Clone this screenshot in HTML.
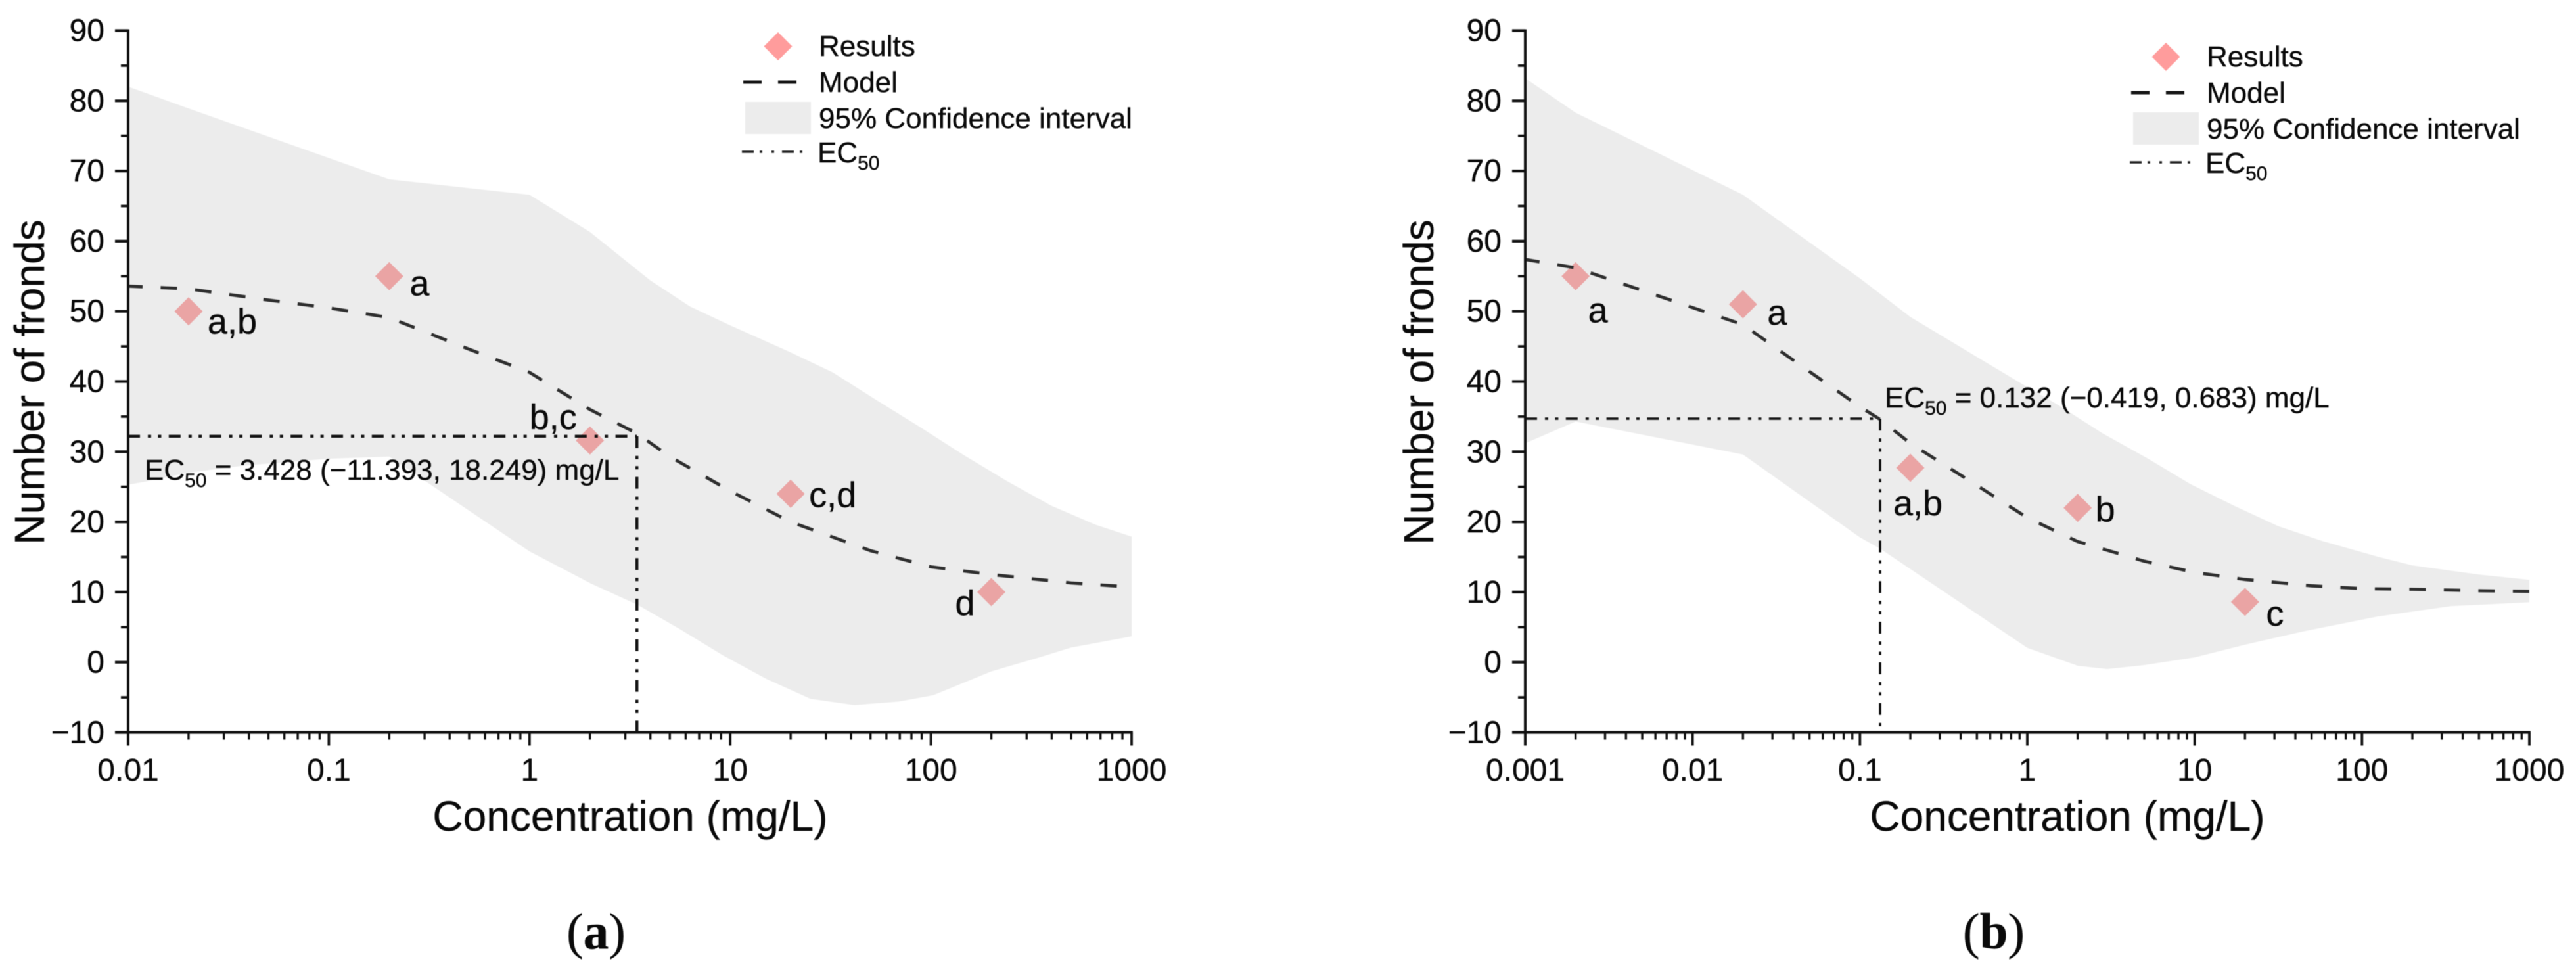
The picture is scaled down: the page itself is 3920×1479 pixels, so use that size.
<!DOCTYPE html>
<html lang="en">
<head>
<meta charset="utf-8">
<title>Number of fronds vs concentration</title>
<style>
  html, body { margin: 0; padding: 0; background: #fff; }
  body { width: 3920px; height: 1479px; overflow: hidden; }
  svg { display: block; filter: blur(0.5px); }
  text { font-family: "Liberation Sans", Arial, sans-serif; fill: #0a0a0a; stroke: #0a0a0a; stroke-width: 0.4px; }
  .tick-label { font-size: 48px; }
  .axis-title { font-size: 64px; }
  .legend-text, .annotation { font-size: 44px; }
  .letter { font-size: 54px; }
  .caption { font-family: "Liberation Serif", "Times New Roman", serif; font-size: 77px; text-anchor: middle; }
  .caption .bold { font-weight: 700; }
</style>
</head>
<body>
<svg id="figure" xmlns="http://www.w3.org/2000/svg" width="3920" height="1479" viewBox="0 0 3920 1479">
  <rect x="0" y="0" width="3920" height="1479" fill="#ffffff"/>

  <g id="panel-a">
    <g class="band-layer"></g>
    <g class="marker-layer"></g>
    <g class="line-layer"></g>
    <g class="axis-layer"></g>
    <g class="letter-layer">
      <text class="letter" data-point="0" data-dx="29" data-dy="34">a,b</text>
      <text class="letter" data-point="1" data-dx="31" data-dy="29">a</text>
      <text class="letter" data-point="2" data-dx="-92" data-dy="-17">b,c</text>
      <text class="letter" data-point="3" data-dx="28" data-dy="20">c,d</text>
      <text class="letter" data-point="4" data-dx="-55" data-dy="35">d</text>
    </g>
    <text class="axis-title" text-anchor="middle" transform="translate(67 581.5) rotate(-90)">Number of fronds</text>
    <text class="axis-title" text-anchor="middle" x="959" y="1264">Concentration (mg/L)</text>
    <text class="annotation" x="220" y="730">EC<tspan font-size="30" dy="11">50</tspan><tspan dy="-11"> = 3.428 (−11.393, 18.249) mg/L</tspan></text>
    <g>
      <polygon points="1184,49 1205.5,70.5 1184,92 1162.5,70.5" fill="#ff9c9c"/>
      <text class="legend-text" x="1246" y="85">Results</text>
      <line x1="1131" y1="125" x2="1213" y2="125" stroke="#151515" stroke-width="5" stroke-dasharray="28 25"/>
      <text class="legend-text" x="1246" y="140">Model</text>
      <rect x="1134" y="155" width="100" height="49" fill="#ececec"/>
      <text class="legend-text" x="1246" y="195">95% Confidence interval</text>
      <line x1="1129" y1="231" x2="1226" y2="231" stroke="#222" stroke-width="3.4" stroke-dasharray="18 9 4 14 4 12"/>
      <text class="legend-text" x="1244" y="247">EC<tspan font-size="30" dy="11">50</tspan></text>
    </g>
    <text class="caption" x="907" y="1443">(<tspan class="bold">a</tspan>)</text>
  </g>

  <g id="panel-b">
    <g class="band-layer"></g>
    <g class="marker-layer"></g>
    <g class="line-layer"></g>
    <g class="axis-layer"></g>
    <g class="letter-layer">
      <text class="letter" data-point="0" data-dx="19" data-dy="70">a</text>
      <text class="letter" data-point="1" data-dx="37" data-dy="31">a</text>
      <text class="letter" data-point="2" data-dx="-26" data-dy="72">a,b</text>
      <text class="letter" data-point="3" data-dx="27" data-dy="21">b</text>
      <text class="letter" data-point="4" data-dx="32" data-dy="36">c</text>
    </g>
    <text class="axis-title" text-anchor="middle" transform="translate(2181 581.5) rotate(-90)">Number of fronds</text>
    <text class="axis-title" text-anchor="middle" x="3146" y="1264">Concentration (mg/L)</text>
    <text class="annotation" x="2868" y="620">EC<tspan font-size="30" dy="11">50</tspan><tspan dy="-11"> = 0.132 (−0.419, 0.683) mg/L</tspan></text>
    <g transform="translate(2112 16)">
      <polygon points="1184,49 1205.5,70.5 1184,92 1162.5,70.5" fill="#ff9c9c"/>
      <text class="legend-text" x="1246" y="85">Results</text>
      <line x1="1131" y1="125" x2="1213" y2="125" stroke="#151515" stroke-width="5" stroke-dasharray="28 25"/>
      <text class="legend-text" x="1246" y="140">Model</text>
      <rect x="1134" y="155" width="100" height="49" fill="#ececec"/>
      <text class="legend-text" x="1246" y="195">95% Confidence interval</text>
      <line x1="1129" y1="231" x2="1226" y2="231" stroke="#222" stroke-width="3.4" stroke-dasharray="18 9 4 14 4 12"/>
      <text class="legend-text" x="1244" y="247">EC<tspan font-size="30" dy="11">50</tspan></text>
    </g>
    <text class="caption" x="3034" y="1443">(<tspan class="bold">b</tspan>)</text>
  </g>
</svg>

<script>
// ---- shared y axis ----
const yTickValues = [-10, 0, 10, 20, 30, 40, 50, 60, 70, 80, 90];
const yTickLabels = ['−10', '0', '10', '20', '30', '40', '50', '60', '70', '80', '90'];
const yMinorValues = [-5, 5, 15, 25, 35, 45, 55, 65, 75, 85];

// ---- panel (a) data ----
const aXTickValues = [0.01, 0.1, 1, 10, 100, 1000];
const aXTickLabels = ['0.01', '0.1', '1', '10', '100', '1000'];
const aUpperConc = [0.01, 0.02, 0.2, 1, 2, 4, 6.3, 10, 19.5, 32.4, 53.2, 88.3, 146, 240, 398, 661, 1000];
const aUpperValues = [82, 78.9, 68.8, 66.6, 61.3, 54.4, 50.7, 48, 44.3, 41.3, 37.4, 33.5, 29.5, 25.8, 22.3, 19.6, 17.9];
const aLowerConc = [0.01, 0.012, 0.02, 0.037, 0.1, 0.2, 0.31, 1, 2.03, 3.45, 5.55, 9.18, 15.2, 25.1, 41.5, 68.9, 102.6, 200, 347, 500, 1000];
const aLowerValues = [25.3, 25.7, 27, 28, 29, 29.3, 25.6, 15.8, 11.2, 8.2, 4.8, 1, -2.4, -5.2, -6.1, -5.6, -4.7, -1.3, 0.7, 2.1, 3.7];
const aModelConc = [0.01, 0.02, 0.05, 0.1, 0.2, 0.5, 1, 2, 3.428, 5, 10, 20, 50, 100, 200, 500, 912];
const aModelValues = [53.6, 53.2, 51.6, 50.5, 49.1, 44.6, 41.3, 36, 32.6, 29.3, 24.4, 20, 15.9, 13.6, 12.5, 11.3, 10.8];
const aResultConc = [0.02, 0.2, 2, 20, 200];
const aResultValues = [50, 55, 31.6, 24, 10];
const aEc50Conc = 3.428;
const aEc50Value = 32.2;

// ---- panel (b) data ----
const bXTickValues = [0.001, 0.01, 0.1, 1, 10, 100, 1000];
const bXTickLabels = ['0.001', '0.01', '0.1', '1', '10', '100', '1000'];
const bUpperConc = [0.001, 0.002, 0.02, 0.1, 0.2, 0.5, 1, 1.54, 2.82, 5.18, 9.4, 17.2, 31.5, 57.4, 126, 200, 500, 1000];
const bUpperValues = [83.2, 78.3, 66.6, 54.7, 49.2, 43.5, 39.2, 36.6, 32.6, 29.1, 25.4, 22.3, 19.4, 17.3, 15, 13.8, 12.5, 11.75];
const bLowerConc = [0.001, 0.002, 0.02, 0.1, 0.132, 0.2, 0.5, 1, 2, 3, 5, 10, 20, 44.6, 123, 339, 1000];
const bLowerValues = [31.2, 34.3, 29.6, 17.8, 16.2, 13.3, 6.9, 2.06, -0.5, -0.96, -0.4, 0.7, 2.5, 4.4, 6.5, 8, 8.55];
const bModelConc = [0.001, 0.002, 0.02, 0.05, 0.1, 0.132, 0.2, 0.5, 1, 2, 5, 10, 20, 50, 100, 200, 500, 1000];
const bModelValues = [57.4, 56.2, 48.1, 41.4, 36.4, 34.6, 31.2, 25.2, 20.6, 17.2, 14.4, 12.8, 11.8, 10.9, 10.5, 10.4, 10.2, 10.1];
const bResultConc = [0.002, 0.02, 0.2, 2, 20];
const bResultValues = [55, 51, 27.7, 22, 8.6];
const bEc50Conc = 0.132;
const bEc50Value = 34.7;

const SVG_NS = 'http://www.w3.org/2000/svg';

function make(tag, parent) {
  const el = document.createElementNS(SVG_NS, tag);
  parent.appendChild(el);
  return el;
}

function pairs(concs, values, xf, yf) {
  return concs.map(function (c, i) {
    return xf(c).toFixed(1) + ',' + yf(values[i]).toFixed(1);
  });
}

function drawPanel(id, left, right, logMin, logMax, p) {
  const root = document.getElementById(id);
  const bandLayer = root.querySelector('.band-layer');
  const markerLayer = root.querySelector('.marker-layer');
  const lineLayer = root.querySelector('.line-layer');
  const axisLayer = root.querySelector('.axis-layer');

  const top = 46.5, bottom = 1114.5;
  const xScale = function (c) { return left + (Math.log10(c) - logMin) * (right - left) / (logMax - logMin); };
  const yScale = function (v) { return bottom - (v + 10) * (bottom - top) / 100; };

  // confidence band
  const upper = pairs(p.upperConc, p.upperValues, xScale, yScale);
  const lower = pairs(p.lowerConc, p.lowerValues, xScale, yScale).reverse();
  const band = make('polygon', bandLayer);
  
  
  band.setAttribute('points', upper.concat(lower).join(' '));
  band.setAttribute('fill', '#ececec');

  // result markers
  const half = 21.5;
  p.resultConc.forEach(function (c, i) {
    const cx = xScale(c), cy = yScale(p.resultValues[i]);
    const d = make('polygon', markerLayer);
    
    
    d.setAttribute('points', [cx, cy - half, cx + half, cy, cx, cy + half, cx - half, cy].join(' '));
    d.setAttribute('fill', '#eaa4a4');
  });

  // model curve
  const model = make('polyline', lineLayer);
  
  
  model.setAttribute('points', pairs(p.modelConc, p.modelValues, xScale, yScale).join(' '));
  model.setAttribute('fill', 'none');
  model.setAttribute('stroke', '#2e2e2e');
  model.setAttribute('stroke-width', '4.8');
  model.setAttribute('stroke-dasharray', '25 27.5');
  model.setAttribute('stroke-dashoffset', '3');

  // EC50 guide lines
  const ex = xScale(p.ec50Conc), ey = yScale(p.ec50Value);
  const hLine = make('line', lineLayer);
  
  
  hLine.setAttribute('x1', left);
  hLine.setAttribute('y1', ey);
  hLine.setAttribute('x2', ex);
  hLine.setAttribute('y2', ey);
  hLine.setAttribute('stroke', '#111');
  hLine.setAttribute('stroke-width', p.ec50Width);
  hLine.setAttribute('stroke-dasharray', '18 12 5 10.4 5 11.4');
  const vLine = make('line', lineLayer);
  
  
  vLine.setAttribute('x1', ex);
  vLine.setAttribute('y1', ey);
  vLine.setAttribute('x2', ex);
  vLine.setAttribute('y2', bottom);
  vLine.setAttribute('stroke', '#111');
  vLine.setAttribute('stroke-width', p.ec50Width);
  vLine.setAttribute('stroke-dasharray', '18 12 5 10.4 5 11.4');

  // axis spines
  const yAxis = make('line', axisLayer);
  
  
  yAxis.setAttribute('x1', left);
  yAxis.setAttribute('y1', top - 2);
  yAxis.setAttribute('x2', left);
  yAxis.setAttribute('y2', bottom + 20);
  yAxis.setAttribute('stroke', '#111');
  yAxis.setAttribute('stroke-width', '4');
  const xAxis = make('line', axisLayer);
  
  
  xAxis.setAttribute('x1', left - 20);
  xAxis.setAttribute('y1', bottom);
  xAxis.setAttribute('x2', right + 1.8);
  xAxis.setAttribute('y2', bottom);
  xAxis.setAttribute('stroke', '#111');
  xAxis.setAttribute('stroke-width', '4.2');

  // y ticks
  yTickValues.forEach(function (v, i) {
    const y = yScale(v);
    const t = make('line', axisLayer);
    
    
    t.setAttribute('x1', left - 20);
    t.setAttribute('y1', y);
    t.setAttribute('x2', left);
    t.setAttribute('y2', y);
    t.setAttribute('stroke', '#111');
    t.setAttribute('stroke-width', '4.2');
    const l = make('text', axisLayer);
    
    
    l.setAttribute('class', 'tick-label');
    l.setAttribute('x', left - 36);
    l.setAttribute('y', y + 16);
    l.setAttribute('text-anchor', 'end');
    l.textContent = yTickLabels[i];
  });
  yMinorValues.forEach(function (v) {
    const y = yScale(v);
    const t = make('line', axisLayer);
    
    
    t.setAttribute('x1', left - 11);
    t.setAttribute('y1', y);
    t.setAttribute('x2', left);
    t.setAttribute('y2', y);
    t.setAttribute('stroke', '#111');
    t.setAttribute('stroke-width', '3.8');
  });

  // x ticks
  p.xTickValues.forEach(function (c, i) {
    const x = xScale(c);
    const t = make('line', axisLayer);
    
    
    t.setAttribute('x1', x);
    t.setAttribute('y1', bottom);
    t.setAttribute('x2', x);
    t.setAttribute('y2', bottom + 20);
    t.setAttribute('stroke', '#111');
    t.setAttribute('stroke-width', '3.8');
    const l = make('text', axisLayer);
    
    
    l.setAttribute('class', 'tick-label');
    l.setAttribute('x', x);
    l.setAttribute('y', 1188);
    l.setAttribute('text-anchor', 'middle');
    l.textContent = p.xTickLabels[i];
    if (i < p.xTickValues.length - 1) {
      for (let m = 2; m <= 9; m++) {
        const mx = xScale(c * m);
        const mt = make('line', axisLayer);
        
        
        mt.setAttribute('x1', mx);
        mt.setAttribute('y1', bottom);
        mt.setAttribute('x2', mx);
        mt.setAttribute('y2', bottom + 11);
        mt.setAttribute('stroke', '#111');
        mt.setAttribute('stroke-width', '3.4');
      }
    }
  });

  // significance letters follow their result points
  root.querySelectorAll('.letter').forEach(function (el) {
    const i = +el.dataset.point;
    el.setAttribute('x', xScale(p.resultConc[i]) + (+el.dataset.dx));
    el.setAttribute('y', yScale(p.resultValues[i]) + (+el.dataset.dy));
  });
}

drawPanel('panel-a', 195, 1722, -2, 3, {
  xTickValues: aXTickValues, xTickLabels: aXTickLabels,
  upperConc: aUpperConc, upperValues: aUpperValues,
  lowerConc: aLowerConc, lowerValues: aLowerValues,
  modelConc: aModelConc, modelValues: aModelValues,
  resultConc: aResultConc, resultValues: aResultValues,
  ec50Conc: aEc50Conc, ec50Value: aEc50Value,
  ec50Width: 4.4
});

drawPanel('panel-b', 2321, 3849, -3, 3, {
  xTickValues: bXTickValues, xTickLabels: bXTickLabels,
  upperConc: bUpperConc, upperValues: bUpperValues,
  lowerConc: bLowerConc, lowerValues: bLowerValues,
  modelConc: bModelConc, modelValues: bModelValues,
  resultConc: bResultConc, resultValues: bResultValues,
  ec50Conc: bEc50Conc, ec50Value: bEc50Value,
  ec50Width: 3.6
});
</script>
</body>
</html>
